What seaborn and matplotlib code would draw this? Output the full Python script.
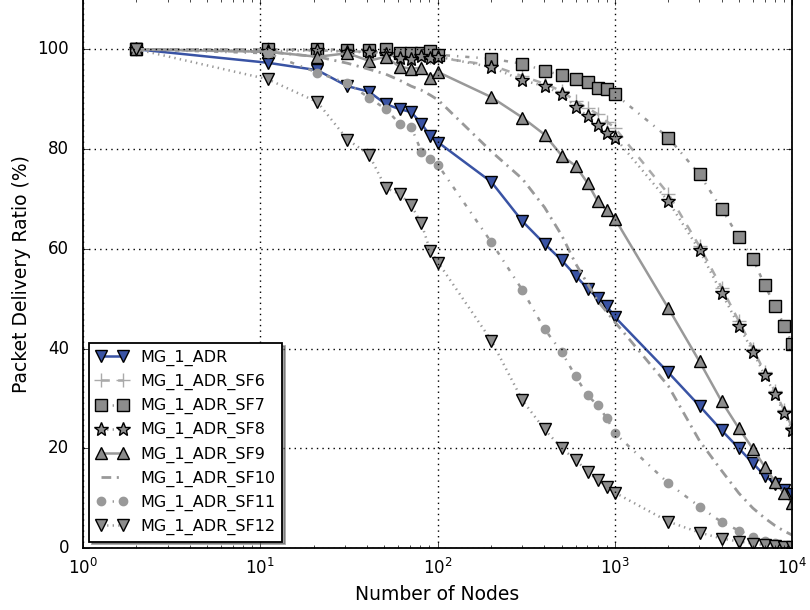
import matplotlib
matplotlib.use("Agg")
import matplotlib.pyplot as plt
import seaborn as sns

# Number of nodes (1 gateway + N end devices)
nodes = [2, 11, 21, 31, 41, 51, 61, 71, 81, 91, 101,
         201, 301, 401, 501, 601, 701, 801, 901, 1001,
         2001, 3001, 4001, 5001, 6001, 7001, 8001, 9001, 10001]

# Packet delivery ratio (%) per configuration
pdr_adr = [100, 97.3, 95.8, 92.6, 91.5, 89.0, 88.0, 87.4, 85.1, 82.6, 81.3,
           73.4, 65.5, 61.0, 57.7, 54.6, 52.0, 50.1, 48.5, 46.3,
           35.2, 28.5, 23.6, 20.0, 17.0, 14.5, 12.9, 11.6, 10.8]
pdr_sf6 = [100, 100, 99.8, 99.6, 99.5, 99.3, 99.0, 98.8, 98.6, 98.4, 98.3,
           96.8, 94.6, 93.1, 91.6, 89.6, 88.2, 87.0, 85.5, 84.2,
           71.0, 60.5, 52.2, 45.5, 40.0, 35.2, 31.4, 27.6, 24.2]
pdr_sf7 = [100, 100, 100, 99.9, 99.9, 100, 99.3, 99.2, 99.3, 99.7, 98.9,
           98.1, 97.1, 95.7, 94.8, 94.1, 93.5, 92.3, 92.1, 91.0,
           82.3, 74.9, 68.0, 62.3, 58.0, 52.7, 48.6, 44.6, 41.0]
pdr_sf8 = [100, 99.6, 99.8, 99.5, 99.4, 99.0, 98.3, 98.1, 98.7, 98.3, 98.5,
           96.4, 93.8, 92.6, 91.0, 88.5, 86.6, 84.8, 83.3, 82.3,
           69.5, 59.7, 51.1, 44.6, 39.4, 34.6, 30.9, 27.0, 23.7]
pdr_sf9 = [100, 99.5, 98.5, 99.2, 97.7, 98.5, 96.5, 96.1, 96.3, 94.3, 95.4,
           90.4, 86.3, 82.9, 78.7, 76.6, 73.2, 69.5, 67.7, 66.0,
           48.1, 37.4, 29.4, 24.0, 19.9, 16.3, 13.3, 11.0, 9.0]
pdr_sf10 = [100, 99.5, 98.5, 97.2, 96.0, 95.0, 93.8, 92.6, 91.8, 90.8, 89.8,
            79.5, 74.0, 68.3, 62.7, 57.0, 53.0, 49.5, 47.3, 45.3,
            32.5, 21.5, 15.5, 11.0, 8.0, 6.0, 4.5, 3.4, 2.6]
pdr_sf11 = [100, 99.2, 95.3, 93.2, 90.3, 88.0, 85.1, 84.4, 79.5, 78.0, 76.7,
            61.3, 51.7, 43.9, 39.3, 34.4, 30.6, 28.6, 26.0, 23.0,
            13.0, 8.3, 5.2, 3.5, 2.3, 1.5, 1.0, 0.7, 0.5]
pdr_sf12 = [100, 94.0, 89.4, 81.9, 78.9, 72.2, 71.0, 68.7, 65.1, 59.5, 57.2,
            41.6, 29.6, 23.8, 20.0, 17.7, 15.3, 13.6, 12.3, 11.1,
            5.3, 3.1, 1.9, 1.3, 0.9, 0.6, 0.4, 0.3, 0.2]

labels = ["MG_1_ADR", "MG_1_ADR_SF6", "MG_1_ADR_SF7", "MG_1_ADR_SF8",
          "MG_1_ADR_SF9", "MG_1_ADR_SF10", "MG_1_ADR_SF11", "MG_1_ADR_SF12"]

plt.style.use("classic")
plt.rcParams["font.family"] = ["DejaVu Sans"]
plt.rcParams["figure.facecolor"] = "white"
plt.rcParams["savefig.facecolor"] = "white"

blue = "#3953a4"
grey_fill = "#8c8c8c"
grey_line = "#999999"
light = "#aaaaaa"

styles = [
    dict(color=blue, marker="v", linestyle="-", lw=1.8, markersize=9,
         markerfacecolor=blue, markeredgecolor="k", markeredgewidth=1.0),
    dict(color=light, marker="+", linestyle="--", lw=1.8, markersize=10,
         markerfacecolor=light, markeredgecolor=light, markeredgewidth=1.0),
    dict(color=grey_line, marker="s", linestyle="-.", lw=1.8, markersize=9,
         markerfacecolor=grey_fill, markeredgecolor="k", markeredgewidth=1.0),
    dict(color=grey_line, marker="*", linestyle=":", lw=1.8, markersize=10,
         markerfacecolor=grey_fill, markeredgecolor="k", markeredgewidth=1.0),
    dict(color=grey_line, marker="^", linestyle="-", lw=1.8, markersize=9,
         markerfacecolor=grey_fill, markeredgecolor="k", markeredgewidth=1.0),
    dict(color=grey_line, marker="", linestyle=(0, (7, 4, 1.5, 4)), lw=2.0),
    dict(color=grey_line, marker="o", linestyle="-.", lw=1.8, markersize=6,
         markerfacecolor=grey_line, markeredgecolor=grey_line, markeredgewidth=1.0),
    dict(color=grey_line, marker="v", linestyle=":", lw=1.8, markersize=9,
         markerfacecolor=grey_fill, markeredgecolor="k", markeredgewidth=1.0),
]
series = [pdr_adr, pdr_sf6, pdr_sf7, pdr_sf8, pdr_sf9, pdr_sf10, pdr_sf11, pdr_sf12]

fig, ax = plt.subplots(figsize=(8.1, 6.1), dpi=100)
fig.subplots_adjust(left=0.1025, right=0.978, bottom=0.1016, top=1.001)
ax.set_xscale("log")

for y, lab, st in zip(series, labels, styles):
    sns.lineplot(x=nodes, y=y, ax=ax, label=lab, errorbar=None, sort=False, **st)

ax.set_xlim(1, 1e4)
ax.set_ylim(0, 110)
ax.set_yticks([0, 20, 40, 60, 80, 100])
ax.grid(True, color="k", linestyle=":", linewidth=1.0)
ax.tick_params(labelsize=12)
ax.tick_params(axis="x", which="major", pad=7)
ax.tick_params(axis="y", which="major", pad=10)
for sp in ax.spines.values():
    sp.set_linewidth(1.3)
ax.set_xlabel("Number of Nodes", fontsize=13.5)
ax.set_ylabel("Packet Delivery Ratio (%)", fontsize=13.5)

leg = ax.legend(loc="lower left", fontsize=11.5, numpoints=2, shadow=True,
                fancybox=False, borderaxespad=0.4, handlelength=2.0)
leg.get_frame().set_edgecolor("k")
leg.get_frame().set_linewidth(1.3)

fig.savefig("out.png", dpi=100)
